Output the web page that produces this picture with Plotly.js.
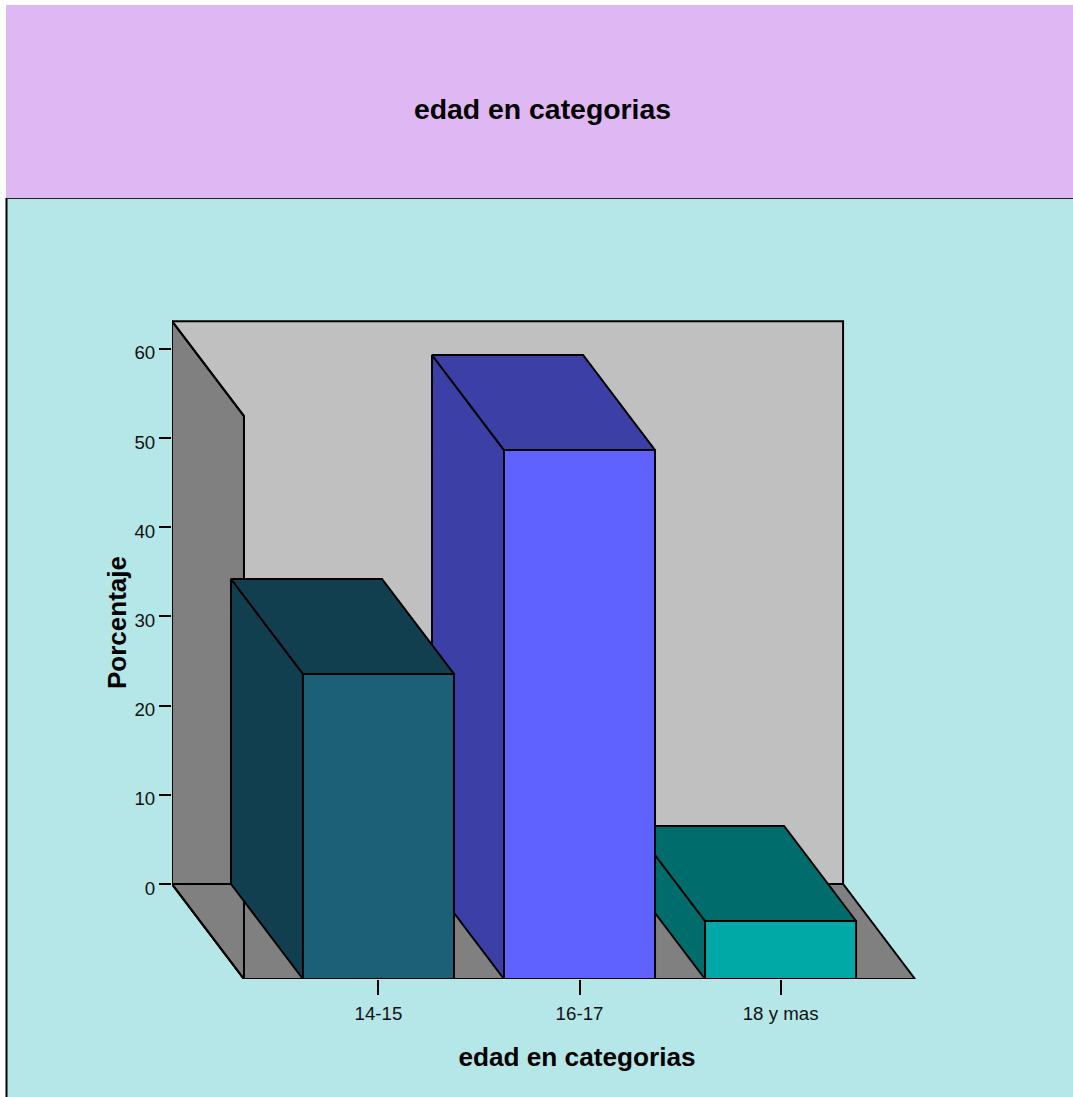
<!DOCTYPE html>
<html>
<head>
<meta charset="utf-8">
<script src="https://cdn.plot.ly/plotly-3.0.1.min.js"></script>
<style>html,body{margin:0;padding:0;background:#fff}#chart{width:1073px;height:1097px}</style>
</head>
<body>
<div id="chart"></div>
<script>
// Age-group percentages
const categories = ['14-15', '16-17', '18 y mas'];
const percentages = [34.2, 59.3, 6.5];
const frontColors = ['#1B6077', '#5F62FF', '#00A8A6'];
const shadeColors = ['#123F4F', '#3C3FA6', '#006D6C'];
const yTicks = [0, 10, 20, 30, 40, 50, 60];

const W = 1073, H = 1097;

// Oblique projection: depth 0 is the front plane, depth 1 the back wall.
const DEPTH_X = 0.358, DEPTH_Y = 10.65;
const HALF_BAR = 0.3756;
const FLOOR_LEFT = -0.669, FLOOR_RIGHT = 2.669, WALL_TOP = 63.1;

function poly(corners, fill) {
  const xs = [], ys = [];
  corners.concat([corners[0]]).forEach(([x, v, d]) => {
    xs.push(x - DEPTH_X * d);
    ys.push(v - DEPTH_Y * (1 - d));
  });
  return {
    type: 'scatter', mode: 'lines', x: xs, y: ys,
    fill: fill ? 'toself' : 'none', fillcolor: fill || undefined,
    line: {color: '#000', width: 2}, cliponaxis: false,
    hoverinfo: 'skip', showlegend: false
  };
}

const sideWall = [[FLOOR_LEFT, 0, 1], [FLOOR_LEFT, 0, 0], [FLOOR_LEFT, WALL_TOP, 0], [FLOOR_LEFT, WALL_TOP, 1]];
const traces = [
  // back wall, side wall, floor, then the side wall's outline back on top of the floor
  poly([[FLOOR_LEFT, 0, 1], [FLOOR_RIGHT, 0, 1], [FLOOR_RIGHT, WALL_TOP, 1], [FLOOR_LEFT, WALL_TOP, 1]], '#C0C0C0'),
  poly(sideWall, '#808080'),
  poly([[FLOOR_LEFT, 0, 1], [FLOOR_RIGHT, 0, 1], [FLOOR_RIGHT, 0, 0], [FLOOR_LEFT, 0, 0]], '#808080'),
  poly(sideWall, null)
];

// Bars are painted right to left so nearer left bars overlap the ones beside them.
for (let i = categories.length - 1; i >= 0; i--) {
  const a = i - HALF_BAR, b = i + HALF_BAR, v = percentages[i];
  traces.push(poly([[a, 0, 0], [a, v, 0], [a, v, 1], [a, 0, 1]], shadeColors[i]));
  traces.push(poly([[a, v, 0], [b, v, 0], [b, v, 1], [a, v, 1]], shadeColors[i]));
  traces.push(poly([[a, 0, 0], [b, 0, 0], [b, v, 0], [a, v, 0]], frontColors[i]));
}

const family = '"Liberation Sans", Arial, sans-serif';
const titleFont = (size) => ({family: family, color: '#000', size: size, weight: 700});
const tickFont = {family: family, size: 18.7, color: '#111'};

const layout = {
  width: W, height: H,
  margin: {l: 0, r: 0, t: 0, b: 0},
  paper_bgcolor: '#FFFFFF',
  plot_bgcolor: 'rgba(0,0,0,0)',
  showlegend: false,
  font: {family: family, color: '#000'},
  title: {
    text: 'edad en categorias', font: titleFont(28.4),
    x: 542.5 / W, xref: 'paper', xanchor: 'center',
    y: 1 - 109 / H, yref: 'paper', yanchor: 'middle'
  },
  xaxis: {
    domain: [172 / W, 982 / W],
    range: [FLOOR_LEFT - DEPTH_X, 3.002],
    tickvals: categories.map((_, i) => i),
    ticktext: categories,
    ticks: 'outside', ticklen: 15, tickwidth: 2, tickcolor: '#000',
    tickfont: tickFont, ticklabelstandoff: 3,
    showgrid: false, zeroline: false, showline: false,
    title: {text: 'edad en categorias', font: titleFont(26.2), standoff: 24}
  },
  yaxis: {
    domain: [1 - 979 / H, 1 - 266 / H],
    range: [-DEPTH_Y, 69.28],
    tickvals: yTicks,
    ticks: 'outside', ticklen: 12, tickwidth: 2, tickcolor: '#000',
    tickfont: tickFont, ticklabelshift: 4,
    showgrid: false, zeroline: false, showline: false,
    title: {text: 'Porcentaje', font: titleFont(26), standoff: 0}
  },
  shapes: [
    {type: 'rect', xref: 'paper', yref: 'paper', layer: 'below',
     x0: 6 / W, x1: 1, y0: 1 - 198 / H, y1: 1 - 5 / H,
     fillcolor: '#DFB8F3', line: {width: 0}},
    {type: 'rect', xref: 'paper', yref: 'paper', layer: 'below',
     x0: 6 / W, x1: 1, y0: 0, y1: 1 - 198 / H,
     fillcolor: '#B5E7E8', line: {width: 0}},
    {type: 'line', xref: 'paper', yref: 'paper', layer: 'below',
     x0: 6 / W, x1: 1, y0: 1 - 198.5 / H, y1: 1 - 198.5 / H,
     line: {color: '#222', width: 1}},
    {type: 'line', xref: 'paper', yref: 'paper', layer: 'below',
     x0: 6.5 / W, x1: 6.5 / W, y0: 0, y1: 1 - 198 / H,
     line: {color: '#000', width: 2}}
  ]
};

Plotly.newPlot('chart', traces, layout, {displayModeBar: false, staticPlot: true});
</script>
</body>
</html>
